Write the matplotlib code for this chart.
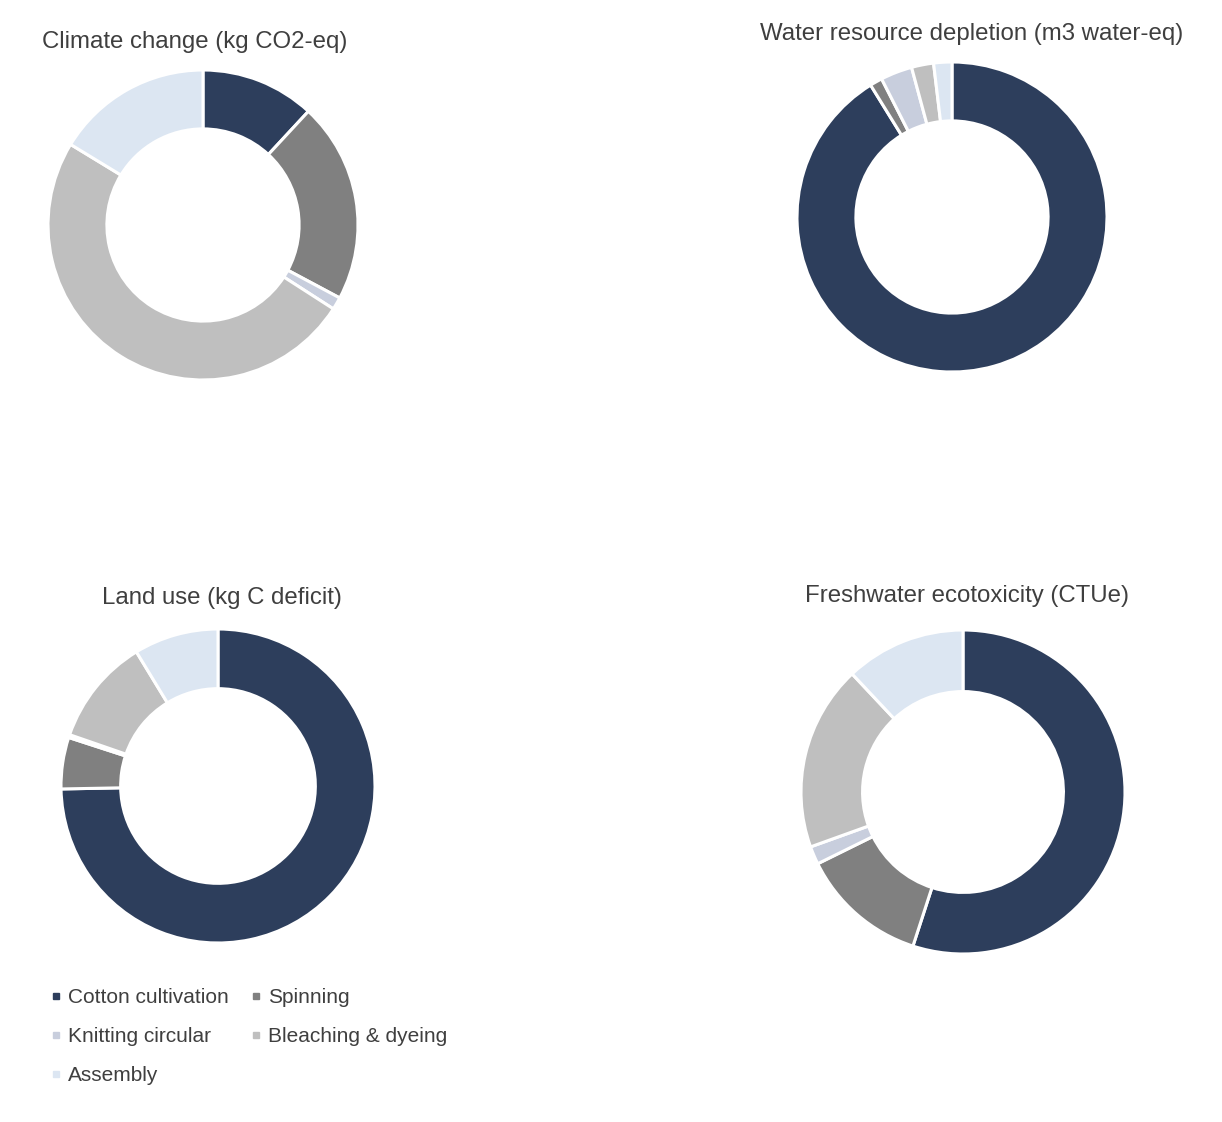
import matplotlib
matplotlib.use("Agg")
import matplotlib.pyplot as plt
from matplotlib.lines import Line2D

plt.rcParams["font.family"] = ["Liberation Sans", "DejaVu Sans"]

# ---------- data (share of impact, %) ----------
stages = ["Cotton cultivation", "Spinning", "Knitting circular",
          "Bleaching & dyeing", "Assembly"]
colors = ["#2d3e5c", "#808080", "#c8cedd", "#bfbfbf", "#dce6f2"]

climate = [11.9, 20.9, 1.3, 49.6, 16.3]
water = [91.2, 1.3, 3.3, 2.3, 1.9]
land = [74.7, 5.3, 0.3, 11.0, 8.7]
freshwater = [55.0, 12.7, 1.8, 18.5, 12.0]

titles = ["Climate change (kg CO2-eq)",
          "Water resource depletion (m3 water-eq)",
          "Land use (kg C deficit)",
          "Freshwater ecotoxicity (CTUe)"]

W, H = 1222, 1122
fig = plt.figure(figsize=(W / 100, H / 100), dpi=100)

# (center x, center y, radius) in pixels, title (x, y)
layout = [
    ((203, 225, 155), (195, 42)),
    ((952, 217, 155), (972, 34)),
    ((218, 786, 157), (222, 598)),
    ((963, 792, 162), (967, 596)),
]
series = [climate, water, land, freshwater]
text_col = "#3f3f3f"

for vals, title, ((cx, cy, r), (tx, ty)) in zip(series, titles, layout):
    ax = fig.add_axes([(cx - r) / W, 1 - (cy + r) / H, 2 * r / W, 2 * r / H])
    ax.pie(vals, colors=colors, startangle=90, counterclock=False, radius=1,
           wedgeprops=dict(width=0.38, edgecolor="white", linewidth=2.2))
    ax.set_xlim(-1, 1)
    ax.set_ylim(-1, 1)
    ax.set_aspect("equal")
    ax.axis("off")
    fig.text(tx / W, 1 - ty / H, title, ha="center", va="center",
             fontsize=17.3, color=text_col)

# legend, row-major order in a 2-column layout
order = [0, 2, 4, 1, 3]
handles = [Line2D([], [], marker="s", linestyle="", markersize=5,
                  color=colors[i], label=stages[i]) for i in order]
fig.legend(handles=handles, loc="upper left",
           bbox_to_anchor=(42 / W, 1 - 980 / H), ncol=2, frameon=False,
           fontsize=15.0, labelcolor=text_col, handlelength=0.5,
           handletextpad=0.35, columnspacing=1.05, labelspacing=0.96,
           borderaxespad=0)

fig.savefig("out.png", dpi=100, facecolor="white")
